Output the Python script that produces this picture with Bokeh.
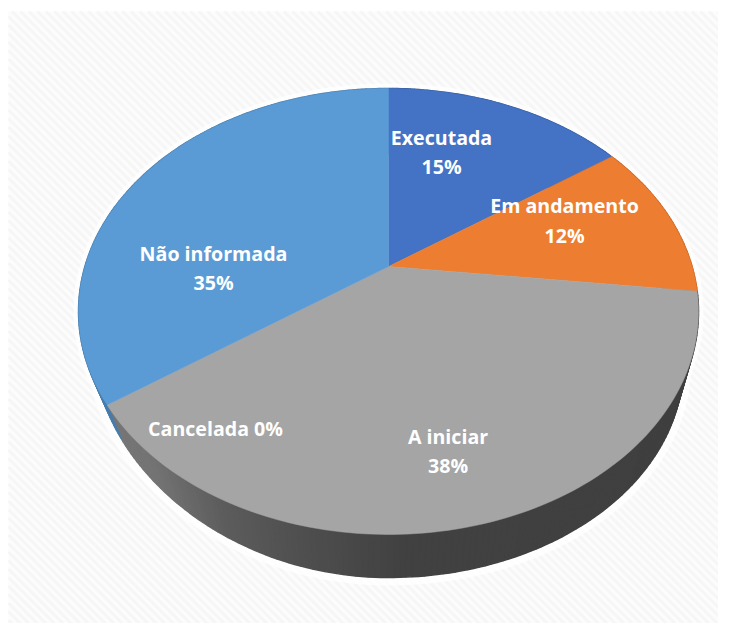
import numpy as np
from bokeh.plotting import figure
from bokeh.embed import file_html
from bokeh.resources import INLINE
from bokeh.core.properties import value

categories = ["Executada", "Em andamento", "A iniciar", "Cancelada", "Não informada"]
shares = [15.3, 11.5, 38.5, 0, 34.7]
top_colors = ["#4472C4", "#ED7D31", "#A5A5A5", "#A5A5A5", "#5B9BD5"]
label_lines = [["Executada", "15%"], ["Em andamento", "12%"], ["A iniciar", "38%"],
               ["Cancelada 0%"], ["Não informada", "35%"]]

# layout
W, H = 718, 623
CX, CY = 388.0, 266.0
R, A, K = 303.6, 213.9, 0.2018
RIM_S, RIM_SHIFT = 0.95, 56.4
label_x = [441, 564, 447.5, 215, 213]
label_y = [[137, 166], [205, 235], [436, 465], [428], [253, 282]]
SHADE_X = [78, 105, 150, 220, 300, 400, 700]
SHADE_V = [0.62, 0.72, 0.70, 0.56, 0.48, 0.40, 0.385]


def project(deg):
    t = np.radians(deg)
    x, y = np.sin(t), np.cos(t)
    w = 1 + K * y
    return CX + R * x / w, CY - A * y / w


def rim(deg):
    x, y = project(deg)
    left = np.clip((CX - x) / 253.0, 0, None)
    return CX + RIM_S * (x - CX), CY + RIM_SHIFT + RIM_S * (y - CY) - 13 * left ** 2


def hex_rgb(c):
    return np.array([int(c[i:i + 2], 16) for i in (1, 3, 5)], float)


p = figure(width=W, height=H, x_range=(0, W), y_range=(H, 0),
           output_backend="svg", toolbar_location=None, min_border=0)
p.axis.visible = False
p.grid.visible = False
p.outline_line_color = None
p.background_fill_color = "#ffffff"
p.border_fill_color = "#ffffff"

# faint diagonal stripes behind the chart
p.quad(left=[8], right=[W], top=[11], bottom=[H], fill_color="#fcfcfc", line_color=None)
sx0, sx1, sy0, sy1 = [], [], [], []
for c in np.arange(-620, 720, 8.5):
    xa, xb = max(8, c + 11), min(W, c + H)
    if xa < xb:
        sx0.append(xa); sy0.append(xa - c); sx1.append(xb); sy1.append(xb - c)
p.segment(sx0, sy0, sx1, sy1, line_color="#f6f6f6", line_width=3)

edges = np.concatenate([[0], np.cumsum(shares)]) / sum(shares) * 360

# soft white halo
ang = np.linspace(0, 360, 361)
hx, hy = project(ang)
p.patch(hx, hy, fill_color="#ffffff", line_color="#ffffff", line_width=10, line_alpha=0.8)
hx, hy = rim(ang)
p.patch(hx, hy, fill_color="#ffffff", line_color="#ffffff", line_width=16, line_alpha=0.8)

# side wall, in overlapping strips
wx, wy, wc = [], [], []
for i in range(len(shares)):
    a0, a1 = edges[i], edges[i + 1]
    if a1 <= a0:
        continue
    n = int(np.ceil((a1 - a0) / 1.0))
    for j in range(n):
        b0 = a0 + (a1 - a0) * j / n
        b1 = a0 + (a1 - a0) * (j + 1) / n
        x0, y0 = project(b0)
        x1, y1 = project(b1)
        xr0, yr0 = rim(b0)
        xr1, yr1 = rim(b1)
        wx.append([x0, x1, xr1, xr0])
        wy.append([y0, y1, yr1, yr0])
        s = np.interp((x0 + x1) / 2, SHADE_X, SHADE_V)
        if top_colors[i] == "#A5A5A5":
            rgb = np.array([165, 165, 165]) * s
        else:
            rgb = hex_rgb(top_colors[i]) * 0.8
        wc.append("#%02x%02x%02x" % tuple(int(v) for v in rgb))
p.patches(wx, wy, fill_color=wc, line_color=wc, line_width=1.5)

# top faces
for i in range(len(shares)):
    if shares[i] == 0:
        continue
    a = np.linspace(edges[i], edges[i + 1], 120)
    x, y = project(a)
    p.patch(np.r_[CX, x], np.r_[CY, y], fill_color=top_colors[i], line_color=top_colors[i], line_width=0.5)

# labels
tx, ty, tt = [], [], []
for i, lines in enumerate(label_lines):
    for t, yy in zip(lines, label_y[i]):
        tx.append(label_x[i]); ty.append(yy); tt.append(t)
p.text(tx, ty, text=tt, text_color="#ffffff", text_font=value("Open Sans"), text_font_style="bold",
       text_font_size="19.6px", text_align="center", text_baseline="middle")

open("out.html", "w").write(file_html(p, INLINE))
